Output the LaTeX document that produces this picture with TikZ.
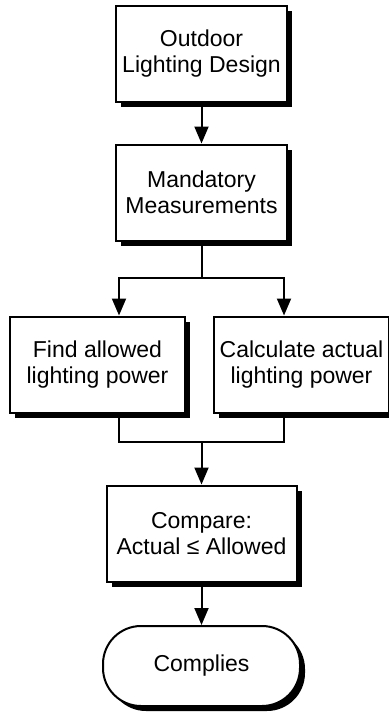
\documentclass[tikz,border=0pt]{standalone}
\usepackage{fontspec}
\setmainfont{Liberation Sans}
\usetikzlibrary{positioning,shadows,arrows.meta}

\begin{document}
\begin{tikzpicture}[x=1pt,y=1pt,node distance=138pt,on grid,line width=2pt,
  >={Triangle[length=17pt,width=14pt]},
  stepbox/.style={draw,fill=white,minimum width=171pt,minimum height=96pt,align=center,
    font=\fontsize{23}{26}\selectfont,
    drop shadow={shadow xshift=5pt,shadow yshift=-5pt,fill=black,opacity=1}},
  endbox/.style={stepbox,minimum width=197pt,minimum height=80pt,rounded corners=38pt}]
  \useasboundingbox (0,0) rectangle (388,-717);
  \path
  node[stepbox] at (201.5,-54) (design) {Outdoor\\Lighting Design}
  node[stepbox,below=138.5pt of design] (measure) {Mandatory\\Measurements}
  node[stepbox,minimum width=175pt,below left=172pt and 104pt of measure] (allowed)
  {Find allowed\\lighting power}
  node[stepbox,minimum width=175pt,below right=172pt and 100pt of measure] (actual)
  {Calculate actual\\lighting power}
  node[stepbox,minimum width=190pt,below=341pt of measure] (compare)
  {Compare:\\Actual ≤ Allowed}
  node[endbox,below=132.5pt of compare] (complies) {Complies}
  ;
  % split and join points
  \coordinate[below=36pt of measure.south] (split);
  \coordinate[left=82.5pt of split] (splitl);
  \coordinate[right=82.5pt of split] (splitr);
  \coordinate[above=43pt of compare.north] (join);

  \draw[->] (design) -- (measure);
  \draw[->] (measure) -- (split) -| (allowed.north -| splitl);
  \draw[->] (split) -| (actual.north -| splitr);
  \draw (allowed.south -| splitl) |- (join) -| (actual.south -| splitr);
  \draw[->] (join) -- (compare);
  \draw[->] (compare) -- (complies);
\end{tikzpicture}
\end{document}
